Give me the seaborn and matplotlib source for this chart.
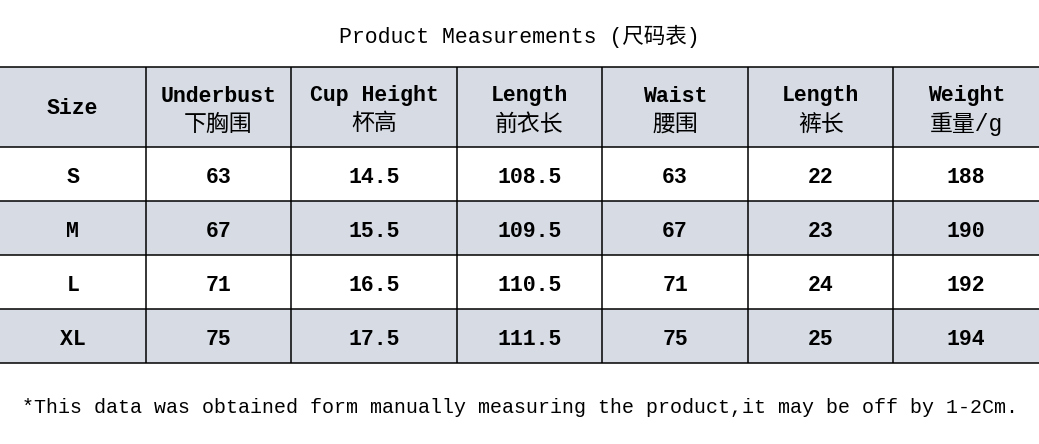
import numpy as np
import pandas as pd
import matplotlib
matplotlib.use('Agg')
import matplotlib.pyplot as plt
from matplotlib.colors import ListedColormap
import seaborn as sns

# table content
title = 'Product Measurements (尺码表)'
note = '*This data was obtained form manually measuring the product,it may be off by 1-2Cm.'
headers_en = ['Size', 'Underbust', 'Cup Height', 'Length', 'Waist', 'Length', 'Weight']
headers_cn = ['', '下胸围', '杯高', '前衣长', '腰围', '裤长', '重量/g']
sizes = ['S', 'M', 'L', 'XL']
underbust = [63, 67, 71, 75]
cup_height = [14.5, 15.5, 16.5, 17.5]
top_length = [108.5, 109.5, 110.5, 111.5]
waist = [63, 67, 71, 75]
pant_length = [22, 23, 24, 25]
weight = [188, 190, 192, 194]

df = pd.DataFrame({'Size': sizes, 'Underbust': underbust, 'Cup Height': cup_height,
                   'Length': top_length, 'Waist': waist, 'Length2': pant_length,
                   'Weight': weight})

# layout in grid units (~5px wide, 2px tall)
col_w = [29, 29, 33, 29, 29, 29, 29]
row_h = [40, 27, 27, 27, 27]
shade = [1, 0, 1, 0, 1]  # header + S, M, L, XL

sns.set_theme(style='white')
plt.rcParams['font.family'] = ['Liberation Mono', 'Noto Sans CJK SC', 'DejaVu Sans']

fig = plt.figure(figsize=(10.39, 4.44), dpi=100)
ax = fig.add_axes([0, 81 / 444, 1, 296 / 444])

grid = np.repeat(np.repeat(np.array(shade)[:, None], len(col_w), axis=1), row_h, axis=0)
grid = np.repeat(grid, col_w, axis=1)
sns.heatmap(grid, ax=ax, cmap=ListedColormap(['#ffffff', '#d7dce4']), vmin=0, vmax=1,
            cbar=False, xticklabels=False, yticklabels=False)

x_edges = np.concatenate([[0], np.cumsum(col_w)])
y_edges = np.concatenate([[0], np.cumsum(row_h)])
ax.set_xlim(0, x_edges[-1])
ax.set_ylim(y_edges[-1], 0)

for xe in x_edges[1:-1]:
    ax.axvline(xe, color='black', lw=1.1)
for ye in y_edges:
    ax.axhline(ye, color='black', lw=1.1, clip_on=False)

xc = (x_edges[:-1] + x_edges[1:]) / 2
yc = (y_edges[:-1] + y_edges[1:]) / 2

fs = 15.5
wt = 'bold'
for j in range(len(headers_en)):
    if headers_cn[j]:
        ax.text(xc[j], 14.5, headers_en[j], ha='center', va='center', fontsize=fs,
                fontweight=wt, color='black')
        ax.text(xc[j], 28.5, headers_cn[j], ha='center', va='center', fontsize=16.5,
                color='black')
    else:
        ax.text(xc[j], yc[0] + 1, headers_en[j], ha='center', va='center', fontsize=fs,
                fontweight=wt, color='black')

for i in range(len(df)):
    for j, col in enumerate(df.columns):
        ax.text(xc[j], yc[i + 1] + 1.5, str(df.iloc[i, j]), ha='center', va='center',
                fontsize=fs, fontweight=wt, color='black')

ax.set_axis_off()

fig.text(519 / 1039, 1 - 36 / 444, title, ha='center', va='center', fontsize=fs,
         color='black')
fig.text(22 / 1039, 1 - 407 / 444, note, ha='left', va='center', fontsize=14.4,
         color='black')

fig.savefig('out.png', dpi=100)
